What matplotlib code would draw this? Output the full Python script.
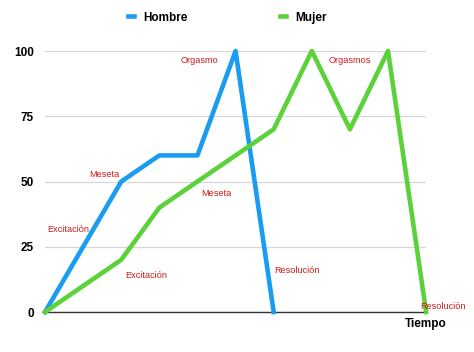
import matplotlib.pyplot as plt

plt.rcParams['font.family'] = ['Liberation Sans', 'DejaVu Sans']

# datos
tiempo = list(range(11))
hombre = [0, 25, 50, 60, 60, 100, 0, None, None, None, None]
mujer = [0, 10, 20, 40, 50, 60, 70, 100, 70, 100, 0]
y_ticks = [0, 25, 50, 75, 100]

# etiquetas de fases (texto, x, y)
fases = [
    ('Excitación', 0.6, 31.5),
    ('Meseta', 1.55, 52.5),
    ('Orgasmo', 4.05, 96.5),
    ('Resolución', 6.62, 16),
    ('Excitación', 2.65, 14),
    ('Meseta', 4.5, 45.5),
    ('Orgasmos', 8.0, 96.5),
    ('Resolución', 10.45, 2),
]

azul = '#1a9cf0'
verde = '#5cd23a'

fig = plt.figure(figsize=(4.74, 3.52), dpi=100)
ax = fig.add_axes([0.095, 0.1136, 0.804, 0.7415])

h_x = [t for t, v in zip(tiempo, hombre) if v is not None]
h_y = [v for v in hombre if v is not None]
ax.plot(h_x, h_y, color=azul, lw=3.3, clip_on=False, zorder=3, label='Hombre')
ax.plot(tiempo, mujer, color=verde, lw=3.3, clip_on=False, zorder=3, label='Mujer')

for txt, x, y in fases:
    ax.text(x, y, txt, color='#d11a1a', fontsize=6.6, ha='center', va='center', zorder=4)

ax.set_xlim(0, 10)
ax.set_ylim(0, 100)
ax.set_yticks(y_ticks)
ax.set_yticklabels([str(v) for v in y_ticks], fontweight='bold', fontsize=8.5)
ax.set_xticks([])
ax.tick_params(axis='y', length=0, pad=8)
ax.grid(axis='y', color='#d6d6d6', lw=0.9)
ax.set_axisbelow(True)
for s in ['top', 'right', 'left']:
    ax.spines[s].set_visible(False)
ax.spines['bottom'].set_color('#333333')
ax.spines['bottom'].set_linewidth(1.0)

ax.text(10, -2.2, 'Tiempo', fontweight='bold', fontsize=8.5, ha='center', va='top')

fig.legend(loc='center', bbox_to_anchor=(0.48, 0.95), ncol=2, frameon=False,
           handlelength=0.5, handletextpad=0.8, columnspacing=7.8,
           prop={'weight': 'bold', 'size': 8.5})

fig.savefig('out.png', dpi=100)
